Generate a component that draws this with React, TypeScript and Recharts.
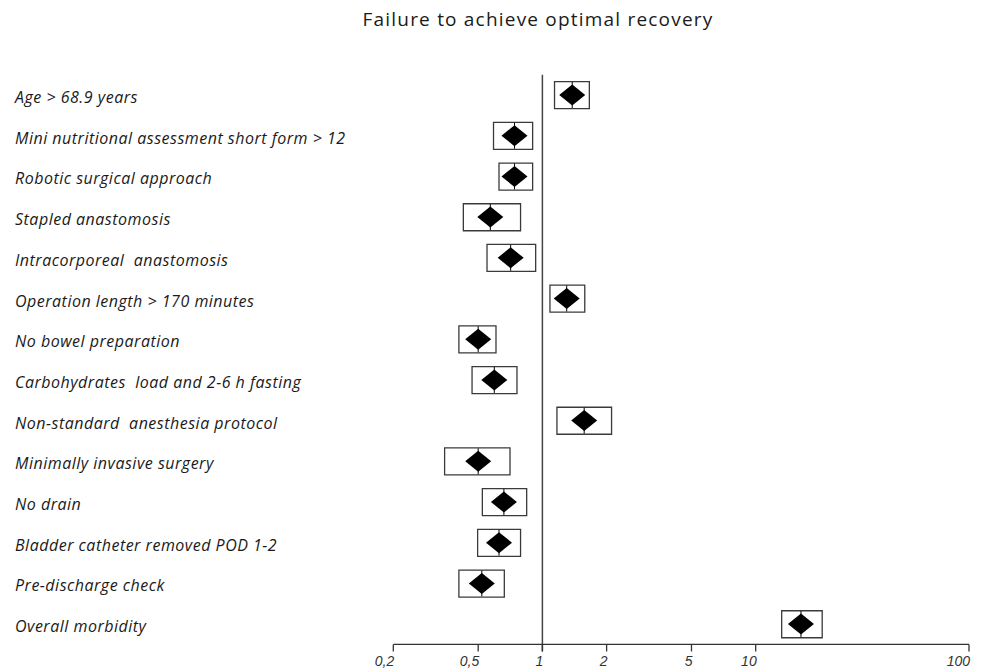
import React from 'react';
import { ComposedChart, Bar, Line, XAxis, YAxis, ReferenceLine } from 'recharts';

const labels = [
  'Age > 68.9 years',
  'Mini nutritional assessment short form > 12',
  'Robotic surgical approach',
  'Stapled anastomosis',
  'Intracorporeal  anastomosis',
  'Operation length > 170 minutes',
  'No bowel preparation',
  'Carbohydrates  load and 2-6 h fasting',
  'Non-standard  anesthesia protocol',
  'Minimally invasive surgery',
  'No drain',
  'Bladder catheter removed POD 1-2',
  'Pre-discharge check',
  'Overall morbidity',
];
const estimates = [1.38, 0.74, 0.74, 0.57, 0.71, 1.3, 0.5, 0.595, 1.57, 0.5, 0.66, 0.626, 0.52, 16.3];
const lowerBounds = [1.14, 0.59, 0.626, 0.426, 0.55, 1.085, 0.406, 0.468, 1.17, 0.348, 0.523, 0.497, 0.406, 13.24];
const upperBounds = [1.66, 0.9, 0.9, 0.79, 0.93, 1.58, 0.606, 0.76, 2.11, 0.705, 0.844, 0.79, 0.663, 20.5];
const xTicks = [0.2, 0.5, 1, 2, 5, 10, 100];
const title = 'Failure to achieve optimal recovery';

const data = labels.map((name, i) => ({
  name,
  est: estimates[i],
  box: [lowerBounds[i], upperBounds[i]],
}));

const Diamond = (props: any) => {
  const { cx, cy } = props;
  if (cx == null || cy == null) return null;
  return (
    <g>
      <line x1={cx} y1={cy - 13} x2={cx} y2={cy + 13} stroke="#000" strokeWidth={1} />
      <polygon
        points={`${cx - 13},${cy} ${cx},${cy - 10.5} ${cx + 13},${cy} ${cx},${cy + 10.5}`}
        fill="#000"
      />
    </g>
  );
};

const XTick = (props: any) => {
  const { x, y, payload } = props;
  return (
    <text
      x={x + 1}
      y={y}
      dy={13}
      textAnchor="end"
      fontFamily="'Liberation Sans', Arial, sans-serif"
      fontStyle="italic"
      fontSize={14}
      fill="#333"
    >
      {String(payload.value).replace('.', ',')}
    </text>
  );
};

const YTick = (props: any) => {
  const { y, payload } = props;
  return (
    <text
      x={15}
      y={y}
      dy={8}
      textAnchor="start"
      fontFamily="'Open Sans', sans-serif"
      fontStyle="italic"
      fontSize={16}
      letterSpacing={0.5}
      fill="#1a1a1a"
      style={{ whiteSpace: 'pre' }}
    >
      {payload.value}
    </text>
  );
};

const RefShape = (props: any) => {
  const { x1, y1, x2, y2 } = props;
  return <line x1={x1} y1={y1 + 7} x2={x2} y2={y2} stroke="#444" strokeWidth={1.5} />;
};

export default function App() {
  return (
    <div
      style={{
        position: 'absolute',
        left: 0,
        top: 0,
        width: 986,
        height: 672,
        overflow: 'hidden',
        background: '#fff',
      }}
    >
      <div
        style={{
          position: 'absolute',
          left: 0,
          top: 6,
          width: 1076,
          textAlign: 'center',
          fontFamily: "'Open Sans', sans-serif",
          fontSize: 19,
          letterSpacing: 1.2,
          lineHeight: '26px',
          color: '#1a1a1a',
        }}
      >
        {title}
      </div>
      <ComposedChart
        width={986}
        height={672}
        data={data}
        layout="vertical"
        margin={{ top: 74.65, right: 17, bottom: 0, left: 0 }}
      >
        <XAxis
          type="number"
          scale="log"
          domain={[0.2, 100]}
          ticks={xTicks}
          allowDataOverflow
          height={27.55}
          tickSize={7}
          tick={<XTick />}
          axisLine={{ stroke: '#333', strokeWidth: 1.3 }}
          tickLine={{ stroke: '#333', strokeWidth: 1.3 }}
        />
        <YAxis
          type="category"
          dataKey="name"
          width={393.3}
          axisLine={false}
          tickLine={false}
          interval={0}
          tick={<YTick />}
        />
        <ReferenceLine x={1} shape={<RefShape />} />
        <Bar
          dataKey="box"
          barSize={27}
          fill="#fff"
          stroke="#3a3a3a"
          strokeWidth={1.3}
          isAnimationActive={false}
        />
        <Line
          dataKey="est"
          stroke="none"
          dot={<Diamond />}
          activeDot={false}
          isAnimationActive={false}
        />
      </ComposedChart>
    </div>
  );
}
